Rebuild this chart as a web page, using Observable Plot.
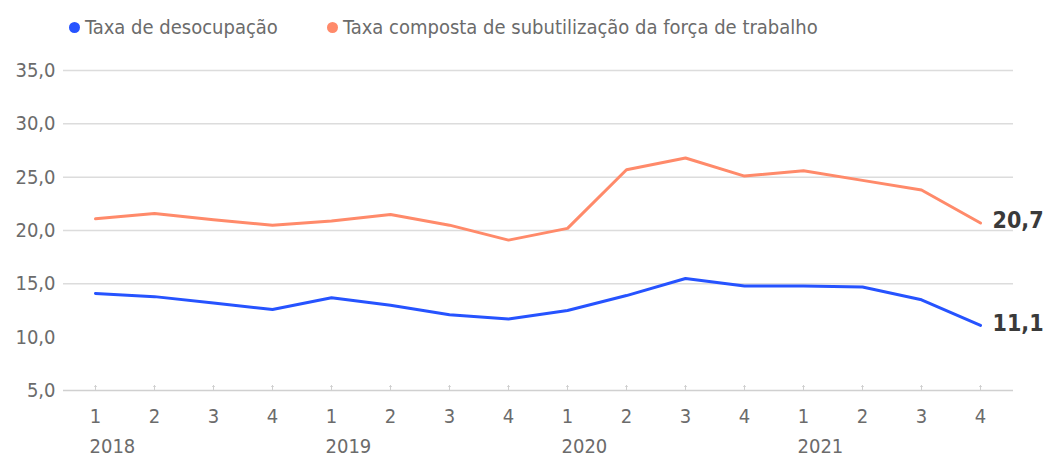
<!DOCTYPE html>
<html>
<head>
<meta charset="utf-8">
<script src="https://cdn.jsdelivr.net/npm/d3@7"></script>
<script src="https://cdn.jsdelivr.net/npm/@observablehq/plot@0.6"></script>
<style>
  body { margin: 0; background: #fff; font-family: "Liberation Sans Narrow", "DejaVu Sans Condensed", sans-serif; }
  #legend { height: 50px; position: relative; color: #6b6b6b; font-size: 20px; }
  .item { position: absolute; top: 15px; display: flex; align-items: center; white-space: nowrap; }
  .dot { width: 11px; height: 11px; border-radius: 50%; margin-right: 5px; display: inline-block; }
</style>
</head>
<body>
<div id="legend"></div>
<div id="chart"></div>
<script>
const years = ["2018", "2019", "2020", "2021"];
const quarterLabels = ["1", "2", "3", "4"];
const seriesNames = ["Taxa de desocupação", "Taxa composta de subutilização da força de trabalho"];
const seriesColors = ["#2653ff", "#ff8a6a"];
const desocupacao = [14.1, 13.8, 13.2, 12.6, 13.7, 13.0, 12.1, 11.7, 12.5, 13.9, 15.5, 14.8, 14.8, 14.7, 13.5, 11.1];
const subutilizacao = [21.1, 21.6, 21.0, 20.5, 20.9, 21.5, 20.5, 19.1, 20.2, 25.7, 26.8, 25.1, 25.6, 24.7, 23.8, 20.7];
const yTicks = [5, 10, 15, 20, 25, 30, 35];
const yGrid = [15, 20, 25, 30, 35];

const periods = years.flatMap(y => quarterLabels.map(q => `${y}-${q}`));
const rows = [];
periods.forEach((p, i) => {
  rows.push({period: p, series: seriesNames[0], value: desocupacao[i]});
  rows.push({period: p, series: seriesNames[1], value: subutilizacao[i]});
});
const lastRows = rows.filter(d => d.period === periods[periods.length - 1]);
const yearStarts = years.map(y => ({period: `${y}-1`, label: y}));
const fmt = v => v.toFixed(1).replace(".", ",");
const font = `"Liberation Sans Narrow", "DejaVu Sans Condensed", sans-serif`;

// legend
const legend = document.getElementById("legend");
const legendX = [69, 327];
seriesNames.forEach((name, i) => {
  const item = document.createElement("div");
  item.className = "item";
  item.style.left = legendX[i] + "px";
  item.innerHTML = `<span class="dot" style="background:${seriesColors[i]}"></span><span>${name}</span>`;
  legend.appendChild(item);
});

const chart = Plot.plot({
  width: 1048,
  height: 410,
  marginTop: 20,
  marginBottom: 70,
  marginLeft: 63,
  marginRight: 35,
  style: {fontFamily: font, fontSize: "20px", color: "#6b6b6b", background: "#fff"},
  x: {type: "point", domain: periods, padding: 0, insetLeft: 28, insetRight: 30, label: null},
  y: {domain: [5, 35], label: null},
  color: {domain: seriesNames, range: seriesColors},
  marks: [
    Plot.ruleY(yGrid, {stroke: "#dcdcdc", strokeWidth: 1.5}),
    Plot.ruleY([5], {stroke: "#d0d0d0", strokeWidth: 1.5}),
    Plot.vector(periods, {x: d => d, y: () => 5, length: 5, anchor: "start", stroke: "#cfcfcf", strokeWidth: 1}),
    Plot.axisY(yTicks, {tickSize: 0, tickPadding: 8, tickFormat: fmt, fill: "#6b6b6b", fontSize: 20}),
    Plot.axisX({tickSize: 0, tickPadding: 18, tickFormat: d => d.split("-")[1], fill: "#6b6b6b", fontSize: 20}),
    Plot.text(yearStarts, {x: "period", y: 5, text: "label", dy: 56, dx: -6, textAnchor: "start", fill: "#6b6b6b", fontSize: 20}),
    Plot.line(rows, {x: "period", y: "value", z: "series", stroke: "series", strokeWidth: 3}),
    Plot.text(lastRows, {x: "period", y: "value", text: d => fmt(d.value), dx: 12, dy: -2, textAnchor: "start", fontWeight: "bold", fontSize: 23, fill: "#3a3a3a"})
  ]
});
document.getElementById("chart").appendChild(chart);
</script>
</body>
</html>
